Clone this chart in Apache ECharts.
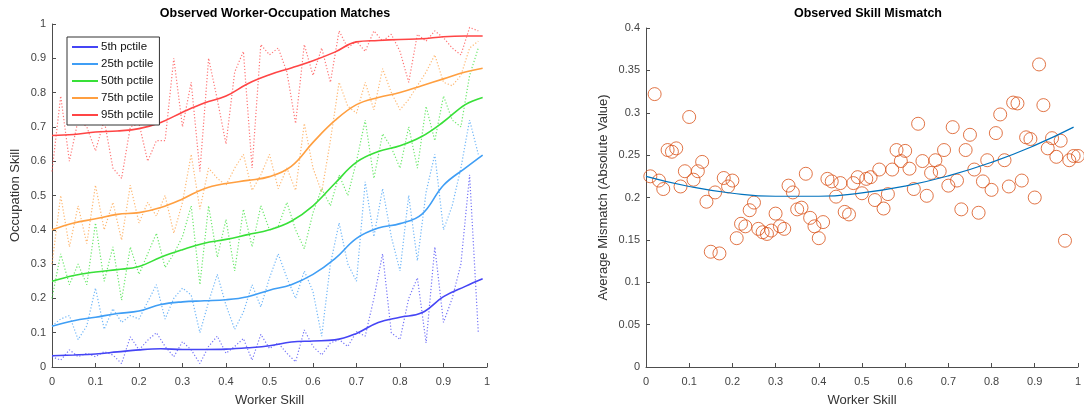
<!DOCTYPE html>
<html>
<head>
<meta charset="utf-8">
<script src="https://cdn.jsdelivr.net/npm/echarts@6/dist/echarts.min.js"></script>
<style>
    html, body { margin: 0; padding: 0; background: #fff; }
    #main { width: 1084px; height: 414px; }
</style>
</head>
<body>
<div id="main"></div>
<script>
// 左图：百分位平滑线 (x 每 0.05)
let smoothX = [0, 0.05, 0.1, 0.15, 0.2, 0.25, 0.3, 0.35, 0.4, 0.45, 0.5, 0.55, 0.6, 0.65, 0.7, 0.75, 0.8, 0.85, 0.9, 0.95, 0.99];
let p5Smooth  = [0.033, 0.035, 0.038, 0.044, 0.050, 0.053, 0.051, 0.051, 0.052, 0.056, 0.062, 0.073, 0.076, 0.079, 0.098, 0.130, 0.145, 0.158, 0.205, 0.235, 0.257];
let p25Smooth = [0.119, 0.135, 0.145, 0.156, 0.163, 0.182, 0.190, 0.193, 0.196, 0.205, 0.224, 0.240, 0.270, 0.315, 0.375, 0.405, 0.418, 0.445, 0.530, 0.580, 0.618];
let p50Smooth = [0.250, 0.267, 0.277, 0.284, 0.293, 0.320, 0.342, 0.361, 0.372, 0.386, 0.400, 0.425, 0.470, 0.535, 0.597, 0.628, 0.645, 0.672, 0.715, 0.765, 0.786];
let p75Smooth = [0.400, 0.420, 0.432, 0.445, 0.450, 0.465, 0.490, 0.520, 0.535, 0.544, 0.555, 0.585, 0.655, 0.718, 0.765, 0.786, 0.800, 0.820, 0.840, 0.860, 0.871];
let p95Smooth = [0.675, 0.678, 0.685, 0.688, 0.695, 0.713, 0.743, 0.770, 0.790, 0.826, 0.852, 0.872, 0.893, 0.918, 0.948, 0.952, 0.955, 0.957, 0.963, 0.965, 0.965];

// 左图：原始观测值 (虚线, x 每 0.02)
let dotX = [0, 0.02, 0.04, 0.06, 0.08, 0.1, 0.12, 0.14, 0.16, 0.18, 0.2, 0.22, 0.24, 0.26, 0.28, 0.3, 0.32, 0.34, 0.36, 0.38, 0.4, 0.42, 0.44, 0.46, 0.48,
            0.5, 0.52, 0.54, 0.56, 0.58, 0.6, 0.62, 0.64, 0.66, 0.68, 0.7, 0.72, 0.74, 0.76, 0.78, 0.8, 0.82, 0.84, 0.86, 0.88, 0.9, 0.92, 0.94, 0.96, 0.98];
let p5Raw  = [0.03, 0.02, 0.05, 0.03, 0.04, 0.03, 0.045, 0.035, 0.01, 0.088, 0.05, 0.078, 0.10, 0.06, 0.03, 0.074, 0.05, 0.01, 0.06, 0.09, 0.04, 0.06, 0.083, 0.02, 0.095,
              0.054, 0.07, 0.04, 0.015, 0.108, 0.06, 0.035, 0.07, 0.08, 0.06, 0.103, 0.09, 0.20, 0.33, 0.10, 0.08, 0.20, 0.26, 0.07, 0.35, 0.13, 0.20, 0.30, 0.56, 0.10];
let p25Raw = [0.12, 0.14, 0.15, 0.08, 0.12, 0.23, 0.11, 0.17, 0.13, 0.15, 0.14, 0.19, 0.24, 0.14, 0.20, 0.23, 0.21, 0.10, 0.19, 0.27, 0.18, 0.11, 0.16, 0.24, 0.175,
              0.26, 0.33, 0.26, 0.20, 0.28, 0.22, 0.09, 0.30, 0.42, 0.30, 0.25, 0.54, 0.38, 0.52, 0.38, 0.28, 0.50, 0.31, 0.51, 0.62, 0.40, 0.47, 0.58, 0.72, 0.62];
let p50Raw = [0.20, 0.33, 0.24, 0.30, 0.24, 0.42, 0.25, 0.35, 0.195, 0.35, 0.27, 0.33, 0.39, 0.29, 0.33, 0.38, 0.47, 0.24, 0.47, 0.32, 0.43, 0.28, 0.46, 0.35, 0.47,
              0.40, 0.41, 0.48, 0.40, 0.345, 0.45, 0.52, 0.47, 0.56, 0.50, 0.60, 0.72, 0.55, 0.68, 0.64, 0.58, 0.70, 0.58, 0.76, 0.66, 0.79, 0.72, 0.70, 0.85, 0.93];
let p75Raw = [0.30, 0.50, 0.35, 0.47, 0.36, 0.53, 0.40, 0.48, 0.37, 0.53, 0.42, 0.48, 0.44, 0.50, 0.39, 0.48, 0.62, 0.46, 0.58, 0.55, 0.53, 0.58, 0.62, 0.515, 0.56,
              0.62, 0.52, 0.58, 0.515, 0.71, 0.58, 0.51, 0.66, 0.83, 0.76, 0.74, 0.83, 0.75, 0.87, 0.80, 0.75, 0.78, 0.82, 0.86, 0.91, 0.83, 0.82, 0.85, 0.93, 0.95];
let p95Raw = [0.57, 0.79, 0.60, 0.72, 0.70, 0.63, 0.72, 0.58, 0.55, 0.70, 0.71, 0.60, 0.66, 0.66, 0.90, 0.70, 0.83, 0.57, 0.90, 0.78, 0.65, 0.86, 0.92, 0.58, 0.94,
              0.91, 0.93, 0.86, 0.71, 0.94, 0.85, 0.93, 0.83, 0.98, 0.93, 0.95, 0.92, 0.98, 0.95, 0.97, 0.92, 0.83, 0.97, 0.95, 0.98, 0.96, 0.93, 0.91, 0.99, 0.98];

let pctNames  = ['5th pctile', '25th pctile', '50th pctile', '75th pctile', '95th pctile'];
let pctColors = ['#4545f5', '#3f9ef5', '#38e038', '#ff9f40', '#ff4545'];

// 右图：技能错配散点 + 二次拟合线
let mismatchX = [0.01, 0.02, 0.03, 0.04, 0.05, 0.06, 0.07, 0.08, 0.09, 0.10, 0.11, 0.12, 0.13, 0.14, 0.15, 0.16, 0.17, 0.18, 0.19, 0.20,
                 0.21, 0.22, 0.23, 0.24, 0.25, 0.26, 0.27, 0.28, 0.29, 0.30, 0.31, 0.32, 0.33, 0.34, 0.35, 0.36, 0.37, 0.38, 0.39, 0.40,
                 0.41, 0.42, 0.43, 0.44, 0.45, 0.46, 0.47, 0.48, 0.49, 0.50, 0.51, 0.52, 0.53, 0.54, 0.55, 0.56, 0.57, 0.58, 0.59, 0.60,
                 0.61, 0.62, 0.63, 0.64, 0.65, 0.66, 0.67, 0.68, 0.69, 0.70, 0.71, 0.72, 0.73, 0.74, 0.75, 0.76, 0.77, 0.78, 0.79, 0.80,
                 0.81, 0.82, 0.83, 0.84, 0.85, 0.86, 0.87, 0.88, 0.89, 0.90, 0.91, 0.92, 0.93, 0.94, 0.95, 0.96, 0.97, 0.98, 0.99, 1.00];
let mismatchY = [0.225, 0.322, 0.220, 0.210, 0.256, 0.254, 0.258, 0.213, 0.231, 0.295, 0.221, 0.231, 0.242, 0.195, 0.136, 0.206, 0.134, 0.223, 0.213, 0.220,
                 0.152, 0.169, 0.166, 0.185, 0.194, 0.163, 0.159, 0.157, 0.161, 0.181, 0.166, 0.163, 0.214, 0.206, 0.186, 0.188, 0.228, 0.176, 0.166, 0.152,
                 0.171, 0.222, 0.219, 0.201, 0.217, 0.183, 0.180, 0.217, 0.224, 0.205, 0.222, 0.224, 0.197, 0.233, 0.187, 0.204, 0.233, 0.256, 0.243, 0.255,
                 0.234, 0.210, 0.287, 0.243, 0.202, 0.229, 0.244, 0.231, 0.256, 0.214, 0.283, 0.220, 0.186, 0.256, 0.274, 0.233, 0.182, 0.219, 0.244, 0.209,
                 0.276, 0.298, 0.244, 0.213, 0.312, 0.311, 0.220, 0.271, 0.269, 0.200, 0.357, 0.309, 0.258, 0.270, 0.248, 0.267, 0.149, 0.244, 0.249, 0.249];
let fitX = [0, 0.1, 0.2, 0.3, 0.4, 0.5, 0.6, 0.7, 0.8, 0.9, 0.99];
let fitY = [0.225, 0.213, 0.205, 0.2015, 0.2015, 0.2055, 0.2135, 0.2255, 0.2415, 0.2615, 0.283];

function zip(xs, ys) {
    return xs.map(function (x, i) { return [x, ys[i]]; });
}

let fontFamily = "'Liberation Sans', Arial, sans-serif";
let axisColor = '#4d4d4d';

function makeXAxis(gridIndex) {
    return {
        gridIndex: gridIndex,
        type: 'value',
        min: 0, max: 1, interval: 0.1,
        name: 'Worker Skill',
        nameLocation: 'middle',
        nameGap: 27,
        nameTextStyle: { color: '#333', fontSize: 13, fontFamily: fontFamily },
        axisLine: { lineStyle: { color: axisColor } },
        axisTick: { inside: true, length: 4, lineStyle: { color: axisColor } },
        axisLabel: { color: '#444', fontSize: 11, margin: 9, fontFamily: fontFamily },
        splitLine: { show: false }
    };
}

function makeYAxis(gridIndex, name, max, interval, gap) {
    return {
        gridIndex: gridIndex,
        type: 'value',
        min: 0, max: max, interval: interval,
        name: name,
        nameLocation: 'middle',
        nameGap: gap,
        nameTextStyle: { color: '#333', fontSize: 13, fontFamily: fontFamily },
        axisLine: { show: true, lineStyle: { color: axisColor } },
        axisTick: { show: true, inside: true, length: 4, lineStyle: { color: axisColor } },
        axisLabel: { color: '#444', fontSize: 11, margin: 6, fontFamily: fontFamily },
        splitLine: { show: false }
    };
}

let series = [];
let rawData = [p5Raw, p25Raw, p50Raw, p75Raw, p95Raw];
let smoothData = [p5Smooth, p25Smooth, p50Smooth, p75Smooth, p95Smooth];

// 先画虚线（原始值），再画平滑线
rawData.forEach(function (vals, i) {
    series.push({
        name: pctNames[i] + ' raw',
        type: 'line',
        xAxisIndex: 0, yAxisIndex: 0,
        data: zip(dotX, vals),
        symbol: 'none',
        silent: true,
        lineStyle: { color: pctColors[i], width: 1.2, type: [1.2, 2], opacity: 0.75 },
        itemStyle: { color: pctColors[i] },
        z: 1
    });
});
smoothData.forEach(function (vals, i) {
    series.push({
        name: pctNames[i],
        type: 'line',
        xAxisIndex: 0, yAxisIndex: 0,
        data: zip(smoothX, vals),
        smooth: 0.4,
        symbol: 'none',
        lineStyle: { color: pctColors[i], width: 1.6 },
        itemStyle: { color: pctColors[i] },
        z: 3
    });
});

series.push({
    name: 'mismatch',
    type: 'scatter',
    xAxisIndex: 1, yAxisIndex: 1,
    data: zip(mismatchX, mismatchY),
    symbol: 'circle',
    symbolSize: 13,
    itemStyle: { color: 'rgba(0,0,0,0)', borderColor: '#d95319', borderWidth: 1 }
});
series.push({
    name: 'fit',
    type: 'line',
    xAxisIndex: 1, yAxisIndex: 1,
    data: zip(fitX, fitY),
    smooth: 0.5,
    symbol: 'none',
    lineStyle: { color: '#0072bd', width: 1.2 },
    z: 4
});

let myChart = echarts.init(document.getElementById('main'));

let option = {
    animation: false,
    backgroundColor: '#fff',
    title: [
        { text: 'Observed Worker-Occupation Matches', left: 270, top: 2, textAlign: 'center',
          textStyle: { fontSize: 12.5, fontWeight: 'bold', color: '#000', fontFamily: fontFamily } },
        { text: 'Observed Skill Mismatch', left: 863, top: 2, textAlign: 'center',
          textStyle: { fontSize: 12.5, fontWeight: 'bold', color: '#000', fontFamily: fontFamily } }
    ],
    legend: {
        data: pctNames,
        orient: 'vertical',
        left: 67, top: 37,
        padding: [2, 6, 2, 5],
        icon: 'rect',
        itemGap: 1,
        itemWidth: 26,
        itemHeight: 2,
        backgroundColor: '#fff',
        borderColor: '#333',
        borderWidth: 1,
        borderRadius: 0,
        textStyle: { fontSize: 11.5, lineHeight: 16, color: '#111', fontFamily: fontFamily, padding: [0, 0, 0, -2] }
    },
    grid: [
        { left: 52, right: 597, top: 24, bottom: 47 },
        { left: 646, right: 3, top: 28, bottom: 47 }
    ],
    xAxis: [makeXAxis(0), makeXAxis(1)],
    yAxis: [
        makeYAxis(0, 'Occupation Skill', 1, 0.1, 30),
        makeYAxis(1, 'Average Mismatch (Absolute Value)', 0.4, 0.05, 36)
    ],
    series: series
};

myChart.setOption(option);
</script>
</body>
</html>
